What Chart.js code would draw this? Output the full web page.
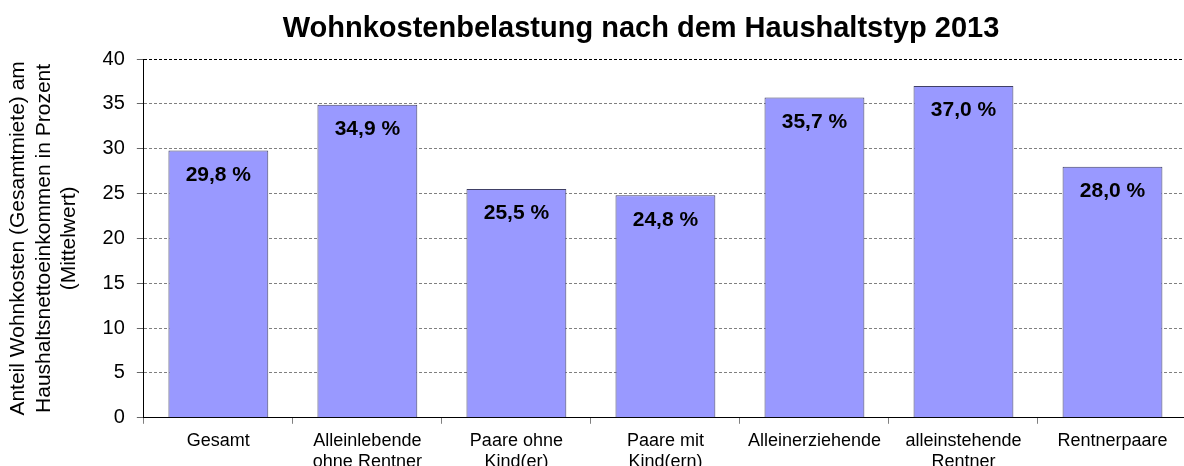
<!DOCTYPE html>
<html lang="de">
<head>
  <meta charset="UTF-8"/>
  <title>Wohnkostenbelastung nach dem Haushaltstyp 2013</title>
  <script src="https://cdn.jsdelivr.net/npm/chart.js"></script>
  <style>
    body { margin: 0; overflow: hidden; background: #fff; font-family: Arial, 'Liberation Sans', sans-serif; }
    #wrap { position: relative; width: 1190px; height: 482px; }
    #wrap canvas { display: block; }
    #title { position: absolute; left: 0; top: 10px; width: 1282px; text-align: center;
             font: bold 29px Arial, 'Liberation Sans', sans-serif; line-height: 34px; color: #000; z-index: 2; }
  </style>
</head>
<body>
  <div id="wrap">
    <div id="title">Wohnkostenbelastung nach dem Haushaltstyp 2013</div>
    <canvas id="chart" width="1190" height="482"></canvas>
  </div>

  <script>
    const categories = [
      'Gesamt',
      ['Alleinlebende', 'ohne Rentner'],
      ['Paare ohne', 'Kind(er)'],
      ['Paare mit', 'Kind(ern)'],
      'Alleinerziehende',
      ['alleinstehende', 'Rentner'],
      'Rentnerpaare'
    ]
    const shares = [29.8, 34.9, 25.5, 24.8, 35.7, 37.0, 28.0]
    const yTicks = [0, 5, 10, 15, 20, 25, 30, 35, 40]
    const yTitle = ['Anteil Wohnkosten (Gesamtmiete) am', 'Haushaltsnettoeinkommen in Prozent', '(Mittelwert)']

    const FONT = "Arial, 'Liberation Sans', sans-serif"

    // value labels inside the bars
    const barLabels = {
      id: 'barLabels',
      afterDatasetsDraw(chart) {
        const ctx = chart.ctx
        const meta = chart.getDatasetMeta(0)
        ctx.save()
        ctx.font = 'bold 21px ' + FONT
        ctx.fillStyle = '#000'
        ctx.textAlign = 'center'
        ctx.textBaseline = 'middle'
        meta.data.forEach((bar, i) => {
          const txt = shares[i].toFixed(1).replace('.', ',') + ' %'
          ctx.fillText(txt, bar.x, bar.y + 24.5)
        })
        ctx.restore()
      }
    }

    new Chart(document.getElementById('chart'), {
      type: 'bar',
      data: {
        labels: categories,
        datasets: [{
          data: shares,
          backgroundColor: '#9999ff',
          borderColor: '#404066',
          borderWidth: 1,
          barPercentage: 0.67,
          categoryPercentage: 1
        }]
      },
      options: {
        responsive: false,
        animation: false,
        layout: { padding: { top: 59, left: 4, right: 3, bottom: 3 } },
        plugins: {
          legend: { display: false },
          tooltip: { enabled: false },
          title: { display: false }
        },
        scales: {
          x: {
            grid: { display: true, drawOnChartArea: false, tickLength: 6, color: '#808080', offset: true },
            border: { display: true, color: '#000', width: 1 },
            ticks: { color: '#000', padding: 6, maxRotation: 0, autoSkip: false, font: { family: FONT, size: 18, lineHeight: 1.2 } }
          },
          y: {
            min: 0,
            max: 40,
            afterBuildTicks: scale => { scale.ticks = yTicks.map(v => ({ value: v })) },
            grid: {
              tickLength: 7,
              color: c => (c.tick && (c.tick.value === 40 || c.tick.value === 0)) ? '#000' : '#808080',
              tickColor: '#666'
            },
            border: { display: true, color: '#000', width: 1, dash: [3, 2] },
            ticks: { color: '#000', padding: 12, font: { family: FONT, size: 20 } },
            title: {
              display: true,
              text: yTitle,
              color: '#000',
              font: { family: FONT, size: 21, lineHeight: 1.2 },
              padding: { top: 2, bottom: 9 }
            }
          }
        }
      },
      plugins: [barLabels]
    })
  </script>
</body>
</html>
